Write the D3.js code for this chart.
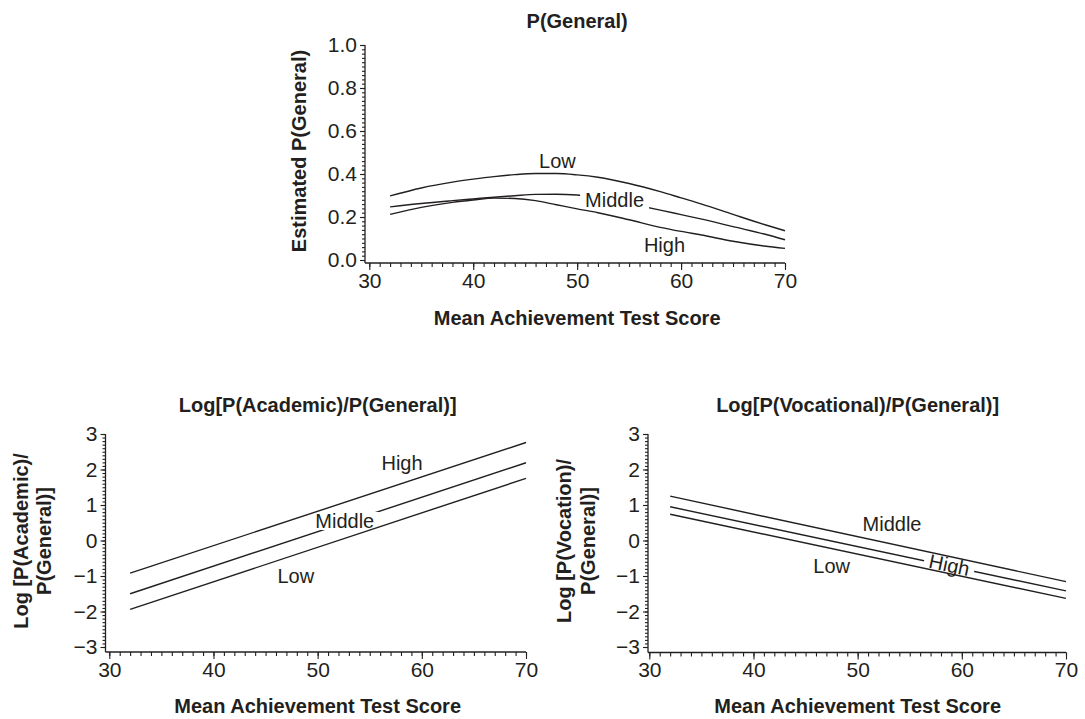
<!DOCTYPE html>
<html><head><meta charset="utf-8">
<script src="https://cdn.jsdelivr.net/npm/d3@7"></script>
<style>
html,body{margin:0;padding:0;background:#fff;}
svg{display:block;font-family:"Liberation Sans", Arial, Helvetica, sans-serif;}
</style></head><body>
<svg id="chart" width="1085" height="719"></svg>
<script>
// ---------- data ----------
const xTickLabels = [30, 40, 50, 60, 70];

// Panel 1: P(General)
const topTitle = "P(General)";
const topYTitle = ["Estimated P(General)"];
const topYTicks = [0.0, 0.2, 0.4, 0.6, 0.8, 1.0];
const topX = [32, 35, 38, 40, 42, 44, 46, 48, 50, 52, 55, 58, 60, 62, 65, 68, 70];
const topLow    = [0.298, 0.335, 0.362, 0.376, 0.388, 0.397, 0.402, 0.402, 0.396, 0.385, 0.356, 0.318, 0.289, 0.260, 0.212, 0.165, 0.136];
const topMiddle = [0.247, 0.263, 0.276, 0.284, 0.292, 0.299, 0.305, 0.306, 0.302, 0.292, 0.262, 0.232, 0.211, 0.190, 0.155, 0.121, 0.094];
const topHigh   = [0.212, 0.245, 0.268, 0.279, 0.288, 0.286, 0.276, 0.257, 0.238, 0.220, 0.187, 0.152, 0.133, 0.116, 0.087, 0.065, 0.054];
const topLabels = [
  {text: "Low", x: 48.1, y: 0.459},
  {text: "Middle", x: 53.6, y: 0.277},
  {text: "High", x: 58.4, y: 0.070}
];

// Panel 2: Log[P(Academic)/P(General)]
const acadTitle = "Log[P(Academic)/P(General)]";
const acadYTitle = ["Log [P(Academic)/", "P(General)]"];
const logYTicks = [-3, -2, -1, 0, 1, 2, 3];
const acadX = [32, 70];
const acadHigh   = [-0.92, 2.76];
const acadMiddle = [-1.50, 2.19];
const acadLow    = [-1.94, 1.75];
const acadLabels = [
  {text: "High", x: 58.1, y: 2.18},
  {text: "Middle", x: 52.6, y: 0.55},
  {text: "Low", x: 47.9, y: -1.00}
];

// Panel 3: Log[P(Vocational)/P(General)]
const vocTitle = "Log[P(Vocational)/P(General)]";
const vocYTitle = ["Log [P(Vocation)/", "P(General)]"];
const vocX = [32, 70];
const vocMiddle = [1.25, -1.16];
const vocHigh   = [0.95, -1.42];
const vocLow    = [0.74, -1.63];
const vocLabels = [
  {text: "Middle", x: 53.3, y: 0.47},
  {text: "Low", x: 47.5, y: -0.71},
  {text: "High", x: 58.8, y: -0.69, rotate: 12}
];

const xAxisTitle = "Mean Achievement Test Score";

// ---------- drawing ----------
const W = 1085, H = 719;
const INK = "#231f20";
const svg = d3.select("#chart");
const defs = svg.append("defs");
let maskCount = 0;

function panel(cfg) {
  const g = svg.append("g");
  const x = d3.scaleLinear().domain([30, 70]).range(cfg.xRange);
  const y = d3.scaleLinear().domain(cfg.yDomain).range(cfg.yRange);

  // minor ticks
  const yMinor = g.append("g").attr("transform", `translate(${cfg.axisX},0)`)
    .call(d3.axisLeft(y).tickValues(y.ticks(cfg.yMinorCount)).tickSize(3).tickFormat(""));
  const xMinor = g.append("g").attr("transform", `translate(0,${cfg.axisY})`)
    .call(d3.axisBottom(x).tickValues(x.ticks(40)).tickSize(4).tickFormat(""));
  // major ticks
  const yMajor = g.append("g").attr("transform", `translate(${cfg.axisX},0)`)
    .call(d3.axisLeft(y).tickValues(cfg.yTicks).tickSize(5).tickPadding(3).tickFormat(cfg.fmt));
  const xMajor = g.append("g").attr("transform", `translate(0,${cfg.axisY})`)
    .call(d3.axisBottom(x).tickValues(xTickLabels).tickSize(7).tickPadding(3).tickFormat(d3.format("d")));
  [yMinor, xMinor, yMajor, xMajor].forEach(a => {
    a.select(".domain").remove();
    a.selectAll("line").attr("stroke", INK).attr("stroke-width", 1.1);
    a.selectAll("text").attr("fill", INK).style("font-size", "21px")
      .style("font-family", '"Liberation Sans", Arial, Helvetica, sans-serif');
  });
  // axis lines
  g.append("line").attr("x1", cfg.axisX).attr("x2", cfg.axisX)
    .attr("y1", y(cfg.yDomain[1])).attr("y2", cfg.axisY).attr("stroke", INK).attr("stroke-width", 1.3);
  g.append("line").attr("x1", cfg.axisX).attr("x2", x(70))
    .attr("y1", cfg.axisY).attr("y2", cfg.axisY).attr("stroke", INK).attr("stroke-width", 1.3);

  const cx = (cfg.xRange[0] + cfg.xRange[1]) / 2;
  // title
  g.append("text").attr("x", cx).attr("y", cfg.titleY).attr("text-anchor", "middle")
    .attr("dominant-baseline", "central").attr("fill", INK)
    .style("font-size", "20px").style("font-weight", "bold").text(cfg.title);
  // x title
  g.append("text").attr("x", cx).attr("y", cfg.xTitleY).attr("text-anchor", "middle")
    .attr("dominant-baseline", "central").attr("fill", INK)
    .style("font-size", "20px").style("font-weight", "bold").text(xAxisTitle);
  // y title lines
  cfg.yTitle.forEach((t, i) => {
    g.append("text").attr("transform", `translate(${cfg.yTitleX[i]},${cfg.yTitleCY}) rotate(-90)`)
      .attr("text-anchor", "middle").attr("dominant-baseline", "central").attr("fill", INK)
      .style("font-size", "20px").style("font-weight", "bold").text(t);
  });

  // labels
  const labelNodes = {};
  cfg.labels.forEach(l => {
    const t = g.append("text")
      .attr("transform", `translate(${x(l.x)},${y(l.y)})` + (l.rotate ? ` rotate(${l.rotate})` : ""))
      .attr("text-anchor", "middle").attr("dominant-baseline", "central").attr("fill", INK)
      .style("font-size", "20px").text(l.text);
    labelNodes[l.text] = t;
  });

  // series lines
  const line = d3.line().x(d => x(d[0])).y(d => y(d[1])).curve(cfg.curve);
  cfg.series.forEach(s => {
    const pts = cfg.xs.map((v, i) => [v, s.values[i]]);
    const p = g.append("path").attr("d", line(pts)).attr("fill", "none")
      .attr("stroke", INK).attr("stroke-width", 1.4);
    if (s.gapLabel) {
      const t = labelNodes[s.gapLabel];
      const bb = t.node().getBBox();
      const id = "m" + (maskCount++);
      const m = defs.append("mask").attr("id", id).attr("maskUnits", "userSpaceOnUse")
        .attr("x", 0).attr("y", 0).attr("width", W).attr("height", H);
      m.append("rect").attr("width", W).attr("height", H).attr("fill", "white");
      m.append("rect").attr("x", bb.x - 5).attr("y", bb.y + 2).attr("width", bb.width + 10)
        .attr("height", bb.height - 4).attr("fill", "black").attr("transform", t.attr("transform"));
      p.attr("mask", `url(#${id})`);
    }
  });
}

panel({
  xRange: [369.3, 785], yDomain: [0, 1], yRange: [260, 45],
  axisX: 365, axisY: 263, yMinorCount: 50, yTicks: topYTicks, fmt: d3.format(".1f"),
  title: topTitle, titleY: 21, xTitleY: 318, yTitle: topYTitle, yTitleX: [299], yTitleCY: 151,
  labels: topLabels, xs: topX, curve: d3.curveMonotoneX,
  series: [{values: topLow}, {values: topMiddle, gapLabel: "Middle"}, {values: topHigh}]
});
panel({
  xRange: [109.3, 526], yDomain: [-3, 3], yRange: [647, 434],
  axisX: 105.5, axisY: 652, yMinorCount: 60, yTicks: logYTicks, fmt: d3.format("d"),
  title: acadTitle, titleY: 405, xTitleY: 706, yTitle: acadYTitle, yTitleX: [21, 44], yTitleCY: 541,
  labels: acadLabels, xs: acadX, curve: d3.curveLinear,
  series: [{values: acadHigh}, {values: acadMiddle, gapLabel: "Middle"}, {values: acadLow}]
});
panel({
  xRange: [649.3, 1066], yDomain: [-3, 3], yRange: [647, 434],
  axisX: 648, axisY: 652.5, yMinorCount: 60, yTicks: logYTicks, fmt: d3.format("d"),
  title: vocTitle, titleY: 405, xTitleY: 706, yTitle: vocYTitle, yTitleX: [564, 588], yTitleCY: 541,
  labels: vocLabels, xs: vocX, curve: d3.curveLinear,
  series: [{values: vocMiddle}, {values: vocHigh, gapLabel: "High"}, {values: vocLow}]
});
</script>
</body></html>
